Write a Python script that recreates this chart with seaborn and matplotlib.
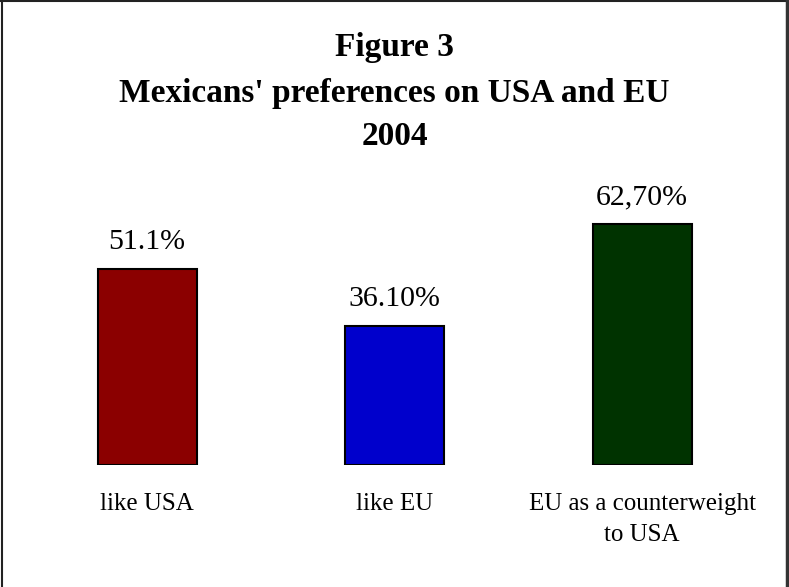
import matplotlib
matplotlib.use("Agg")
import matplotlib.pyplot as plt
import seaborn as sns
import pandas as pd
from matplotlib.lines import Line2D

# chart data
categories = ["like USA", "like EU", "EU as a counterweight\nto USA"]
values = [51.1, 36.1, 62.7]
value_labels = ["51.1%", "36.10%", "62,70%"]
bar_colors = ["#8B0000", "#0000CC", "#003300"]
title_lines = ["Figure 3", "Mexicans' preferences on USA and EU", "2004"]

df = pd.DataFrame({"category": categories, "value": values})

sns.set_theme(style="white")
plt.rcParams["font.family"] = ["Liberation Serif", "DejaVu Serif"]
plt.rcParams["text.color"] = "black"
plt.rcParams["xtick.color"] = "black"

fig = plt.figure(figsize=(7.89, 5.87), dpi=100)
ax = fig.add_axes([0.0295, 0.2078, 0.9411, 0.5233])

sns.barplot(data=df, x="category", y="value", hue="category",
            palette=bar_colors, legend=False, width=0.4,
            edgecolor="black", linewidth=1.5, saturation=1, ax=ax)

ax.set_xlim(-0.5, 2.5)
ax.set_ylim(0, 80)
ax.set_xlabel("")
ax.set_ylabel("")
ax.set_yticks([])
ax.tick_params(axis="x", length=0, pad=20, labelsize=18, labelcolor="black")
for lbl in ax.get_xticklabels():
    lbl.set_linespacing(1.55)
sns.despine(ax=ax, left=True, bottom=True, top=True, right=True)

# value labels above bars
for i, (v, txt) in enumerate(zip(values, value_labels)):
    ax.annotate(txt, (i, v), xytext=(0, 14.4), textcoords="offset points",
                ha="center", va="baseline", fontsize=21.5, color="black")

# title lines
for y, line in zip([0.9046, 0.8262, 0.7530], title_lines):
    fig.text(0.5, y, line, ha="center", va="baseline", fontsize=24,
             fontweight="bold", color="black")

# outer frame (top, left, right)
fig.add_artist(Line2D([0.002, 0.002], [0, 1], transform=fig.transFigure,
                      color="#222222", lw=1.5))
fig.add_artist(Line2D([0, 1], [0.999, 0.999], transform=fig.transFigure,
                      color="#222222", lw=1.5))
fig.add_artist(Line2D([0.9975, 0.9975], [0, 1], transform=fig.transFigure,
                      color="#333333", lw=2.5))

fig.savefig("out.png", dpi=100, facecolor="white")
